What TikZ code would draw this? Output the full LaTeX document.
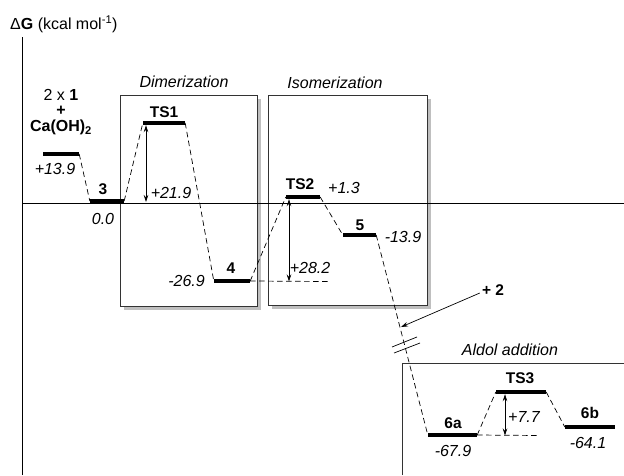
\documentclass[tikz,border=0pt]{standalone}
\usepackage{fontspec}
\setmainfont{Liberation Sans}
\usetikzlibrary{arrows.meta}
\begin{document}
\begin{tikzpicture}[x=1pt,y=-1pt,
  lvl/.style={fill=black,inner sep=0pt,minimum height=4pt},
  conn/.style={dash pattern=on 5.5pt off 3.5pt, line width=0.7pt},
  dbl/.style={{Stealth[length=7pt,width=4.5pt]}-{Stealth[length=7pt,width=4.5pt]}, line width=0.7pt},
  frame/.style={draw=black!80, fill=white, line width=0.8pt},
  shade/.style={fill=black!25, draw=none},
  lab/.style={font=\fontsize{15.5}{16}\selectfont\bfseries, inner sep=0pt},
  val/.style={font=\fontsize{16}{17}\selectfont\itshape, inner sep=0pt},
  ttl/.style={font=\fontsize{16}{17}\selectfont\itshape, inner sep=0pt}]
\useasboundingbox (0,0) rectangle (624,475);
% boxes
\fill[shade] (124,99) rectangle (261,310);
\fill[shade] (272,99) rectangle (431,309);
\draw[frame] (120,95) rectangle (257,306);
\draw[frame] (268,95) rectangle (427,305);
\draw[draw=black!80, line width=0.8pt] (402,475) -- (402,363) -- (624,363);
\node[ttl] (tdim) at (184,82) {Dimerization};
\node[ttl] (tiso) at (335,83) {Isomerization};
\node[ttl] (tald) at (510,350) {Aldol addition};
% axes
\coordinate (yb) at (22,475);
\coordinate (yt) at (22,37);
\coordinate (xl) at (22,203);
\coordinate (xr) at (624,203);
\draw[line width=0.8pt] (yb) -- (yt);
\draw[line width=0.8pt] (xl) -- (xr);
\node[inner sep=0pt, anchor=west, font=\fontsize{16}{17}\selectfont] (title) at (10,24) {Δ\textbf{G} (kcal mol\textsuperscript{-1})};
% levels
\node[lvl, minimum width=36pt] (r) at (61,154) {};
\node[lvl, minimum width=34pt] (n3) at (107,201) {};
\node[lvl, minimum width=42pt] (ts1) at (164,123) {};
\node[lvl, minimum width=36pt] (n4) at (232,281) {};
\node[lvl, minimum width=34pt] (ts2) at (303,197) {};
\node[lvl, minimum width=33pt] (n5) at (359.5,235) {};
\node[lvl, minimum width=49pt] (n6a) at (452.5,435) {};
\node[lvl, minimum width=50pt] (ts3) at (521,392) {};
\node[lvl, minimum width=50pt] (n6b) at (590,427) {};
% dashed connectors
\draw[conn] (r.east) -- (n3.west);
\draw[conn] (n3.east) -- (ts1.west);
\draw[conn] (ts1.east) -- (n4.west);
\draw[conn] (n4.east) -- (ts2.west);
\draw[conn] (ts2.east) -- (n5.west);
\draw[conn] (n5.east) -- (n6a.west);
\draw[conn] (n6a.east) -- (ts3.west);
\draw[conn] (ts3.east) -- (n6b.west);
% reference lines and barrier arrows
\coordinate (z1) at (146,202);
\draw[dbl] (ts1.south -| z1) -- (z1);
\coordinate (r4) at (328,281.5);
\draw[conn] (n4.east) -- (r4);
\coordinate (z2) at (289,281.5);
\draw[dbl] (ts2.south -| z2) -- (z2);
\coordinate (r6) at (540,435.5);
\draw[conn] (n6a.east) -- (r6);
\coordinate (z3) at (505,435.5);
\draw[dbl] (ts3.south -| z3) -- (z3);
% + 2 arrow and break
\node[lab] (p2) at (493,290) {+ 2};
\coordinate (t2) at (401,327);
\draw[-{Stealth[length=7pt,width=4.5pt]}, line width=0.7pt] (p2.west) ++(-2,3) -- (t2);
\coordinate (b1a) at (392,347); \coordinate (b1b) at (417,337);
\coordinate (b2a) at (394,353); \coordinate (b2b) at (420,343);
\draw[line width=0.7pt] (b1a) -- (b1b);
\draw[line width=0.7pt] (b2a) -- (b2b);
% labels
\node[inner sep=0pt, align=center, font=\fontsize{16}{15.5}\selectfont] (lr) at (61,112) {2 x \textbf{1}\\\textbf{+}\\\textbf{Ca(OH)\textsubscript{2}}};
\node[val] (vr) at (55,169) {+13.9};
\node[lab] (l3) at (103,189) {3};
\node[val] (v3) at (103,219) {0.0};
\node[lab] (lts1) at (164,112) {TS1};
\node[val] (v1) at (171,193) {+21.9};
\node[lab] (l4) at (231,268) {4};
\node[val, anchor=east] (v4) at (205,281) {-26.9};
\node[lab] (lts2) at (300,184) {TS2};
\node[val] (vts2) at (344,188) {+1.3};
\node[lab] (l5) at (360,225) {5};
\node[val] (v5) at (403,237) {-13.9};
\node[val] (v2) at (310,268) {+28.2};
\node[lab] (l6a) at (453,423) {6a};
\node[val] (v6a) at (453,451) {-67.9};
\node[lab] (lts3) at (520,378) {TS3};
\node[val] (v7) at (524,417) {+7.7};
\node[lab] (l6b) at (590,413) {6b};
\node[val] (v6b) at (588,443) {-64.1};
\end{tikzpicture}
\end{document}
